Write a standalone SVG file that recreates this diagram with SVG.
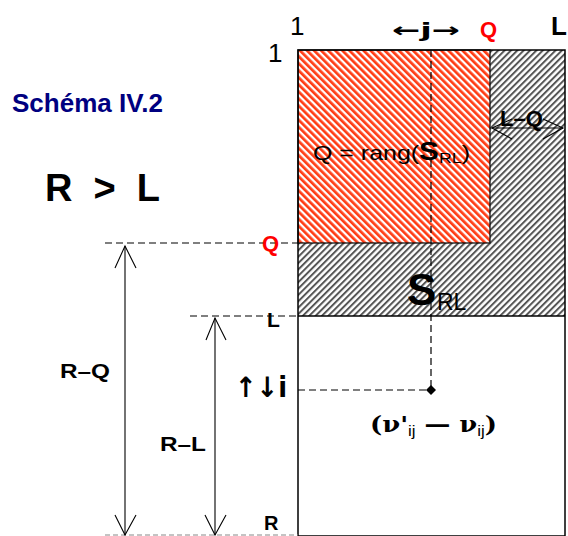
<svg xmlns="http://www.w3.org/2000/svg" width="568" height="536" viewBox="0 0 568 536">
<style>
.t{font-family:"Liberation Sans",Arial,sans-serif;fill:#000}
.b{font-weight:bold}
.dj{font-family:"DejaVu Sans",sans-serif;font-weight:bold}
.dash{stroke:#000;stroke-width:1.2;stroke-dasharray:7 4;fill:none}
.ln{stroke:#000;stroke-width:1.3;fill:none}
.ar{stroke:#000;stroke-width:1.1;fill:none}
</style>
<defs>
<pattern id="red" width="5" height="5" patternUnits="userSpaceOnUse" patternTransform="rotate(-45)">
<rect width="5" height="5" fill="#fff"/><rect width="2.7" height="5" fill="#ff3c14"/>
</pattern>
<pattern id="gray" width="4.5" height="4.5" patternUnits="userSpaceOnUse" patternTransform="rotate(45)">
<rect width="4.5" height="4.5" fill="#fff"/><rect width="2" height="4.5" fill="#555"/>
</pattern>
</defs>
<rect width="568" height="536" fill="#fff"/>
<g id="matrix">
<rect x="298" y="50" width="267" height="266" fill="url(#gray)"/>
<rect x="298" y="50" width="192" height="193" fill="url(#red)" stroke="#000" stroke-width="1.2"/>
<line class="ln" x1="298" y1="316" x2="565" y2="316"/>
<rect x="298" y="50" width="267" height="486" fill="none" stroke="#000" stroke-width="1.5"/>
</g>
<g id="connectors">
<line class="dash" x1="431" y1="50" x2="431" y2="390"/>
<line class="dash" x1="298" y1="390" x2="431" y2="390"/>
<line class="dash" x1="105" y1="243" x2="298" y2="243"/>
<line class="dash" x1="190" y1="316" x2="298" y2="316"/>
<line x1="105" y1="535" x2="298" y2="535" stroke="#888" stroke-width="1" stroke-dasharray="5 3"/>
<line class="ar" x1="125" y1="246" x2="125" y2="535"/>
<polyline class="ar" points="115,268 125,246 136,268"/>
<polyline class="ar" points="115,515 125,535 136,515"/>
<line class="ar" x1="215" y1="318" x2="215" y2="535"/>
<polyline class="ar" points="206,340 215,318 226,340"/>
<polyline class="ar" points="205,515 215,535 226,515"/>
<line class="ar" x1="492" y1="128" x2="563" y2="128"/>
<polyline class="ar" points="512,119 492,128 512,139"/>
<polyline class="ar" points="543,119 563,128 543,139"/>
<path d="M431,385 L436,390 L431,395 L426,390 Z" fill="#000"/>
</g>
<g id="labels">
<text class="t" x="290" y="35" font-size="26">1</text>
<text class="t" x="268" y="62" font-size="26">1</text>
<text class="dj" x="392" y="37" font-size="20" textLength="68" lengthAdjust="spacingAndGlyphs">←j→</text>
<text class="t b" x="480" y="37" font-size="22" style="fill:#ff0000">Q</text>
<text class="t b" x="551" y="35" font-size="26">L</text>
<text class="t b" x="12" y="112" font-size="25" textLength="151" lengthAdjust="spacingAndGlyphs" style="fill:#000080">Schéma IV.2</text>
<text class="t b" x="45" y="201" font-size="38" textLength="115" xml:space="preserve">R &gt; L</text>
<text class="t" x="313" y="160" font-size="21" textLength="157" lengthAdjust="spacingAndGlyphs">Q = rang(<tspan class="b" font-size="25">S</tspan><tspan font-size="15" dy="3">RL</tspan><tspan dy="-3">)</tspan></text>
<text class="t b" x="500" y="126" font-size="22">L–Q</text>
<text class="t b" x="407" y="305" font-size="44">S</text>
<text class="t" x="437" y="310" font-size="23">RL</text>
<text class="t b" x="262" y="251" font-size="22" style="fill:#ff0000">Q</text>
<text class="t b" x="267" y="327" font-size="21">L</text>
<text class="t b" x="264" y="530" font-size="20">R</text>
<text class="t b" x="60" y="378" font-size="21" textLength="50" lengthAdjust="spacingAndGlyphs">R–Q</text>
<text class="t b" x="160" y="451" font-size="21" textLength="46" lengthAdjust="spacingAndGlyphs">R–L</text>
<text class="dj" x="235" y="397" font-size="28" textLength="52" lengthAdjust="spacingAndGlyphs">↑↓i</text>
<text x="370" y="432" font-size="23" font-family="'DejaVu Serif',serif" font-weight="bold" textLength="127" lengthAdjust="spacingAndGlyphs">(ν'<tspan font-size="15" font-weight="normal" font-family="'Liberation Sans',sans-serif" dy="4">ij</tspan><tspan dy="-4"> — ν</tspan><tspan font-size="15" font-weight="normal" font-family="'Liberation Sans',sans-serif" dy="4">ij</tspan><tspan dy="-4">)</tspan></text>
</g>
</svg>
